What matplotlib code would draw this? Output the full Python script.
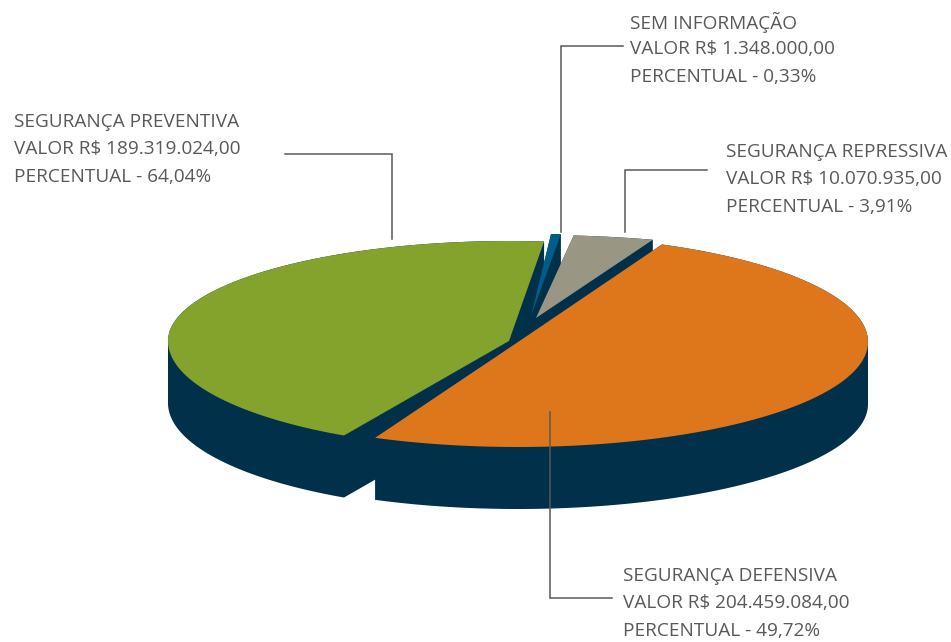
import numpy as np
import matplotlib.pyplot as plt
from matplotlib.patches import Polygon

plt.rcParams['font.family'] = ['Open Sans', 'DejaVu Sans']

# drawing order: back slices first
slices = ['repressiva', 'sem_info', 'preventiva', 'defensiva']
shares = [3.7, 0.45, 43.6, 49.95]  # share of the ellipse as drawn, percent
colors = ['#999684', '#005d87', '#83a32d', '#de761b']
start_deg = [70.5, 85.1, 84.1, -114.1]
tip_x = [536, 531, 509, 518]
tip_y = [318, 316, 341, 342]
semi_x = [350, 350, 341, 350]
semi_back = [83, 82, 100, 107]
semi_front = [83, 82, 108, 105]

labels = [
    ['SEM INFORMAÇÃO', 'VALOR R$ 1.348.000,00', 'PERCENTUAL - 0,33%'],
    ['SEGURANÇA REPRESSIVA', 'VALOR R$ 10.070.935,00', 'PERCENTUAL - 3,91%'],
    ['SEGURANÇA PREVENTIVA', 'VALOR R$ 189.319.024,00', 'PERCENTUAL - 64,04%'],
    ['SEGURANÇA DEFENSIVA', 'VALOR R$ 204.459.084,00', 'PERCENTUAL - 49,72%'],
]
label_x = [630, 726, 14, 623]
label_y = [22, 152, 122, 576]
leaders = [
    ([623, 561, 561], [46, 46, 232]),
    ([707, 625, 625], [170, 170, 232]),
    ([285, 392, 392], [154, 154, 239]),
    ([550, 550, 612], [412, 598, 598]),
]

dark = '#00304a'
text_color = '#58595b'
depth = 62

fig = plt.figure(figsize=(9.51, 6.42), dpi=100)
ax = fig.add_axes([0, 0, 1, 1])
ax.set_xlim(0, 951)
ax.set_ylim(642, 0)
ax.axis('off')


def wedge_points(i):
    t = np.radians(np.linspace(start_deg[i], start_deg[i] + shares[i] * 3.6, 200))
    b = np.where(np.sin(t) >= 0, semi_back[i], semi_front[i])
    x = tip_x[i] + semi_x[i] * np.cos(t)
    y = tip_y[i] - b * np.sin(t)
    return np.vstack([[tip_x[i], tip_y[i]], np.column_stack([x, y])])


def half_hull(pts):
    chain = []
    for p in pts:
        while len(chain) > 1:
            a, b = chain[-2], chain[-1]
            if (b[0] - a[0]) * (p[1] - a[1]) - (b[1] - a[1]) * (p[0] - a[0]) > 0:
                break
            chain.pop()
        chain.append(p)
    return chain[:-1]


def draw_walls(pts):
    # the slice and its copy one depth lower, joined by their convex hull
    both = sorted(map(tuple, np.vstack([pts, pts + [0, depth]])))
    hull = half_hull(both) + half_hull(both[::-1])
    ax.add_patch(Polygon(hull, fc=dark, ec='none'))


tops = [wedge_points(i) for i in range(len(slices))]

# dark hub seen between the exploded slices
hub = np.array([tops[2][1], tops[2][0], tops[0][0], tops[1][0]])
draw_walls(hub)

for pts in tops:
    draw_walls(pts)
for i in range(len(slices)):
    ax.add_patch(Polygon(tops[i], fc=colors[i], ec='none', zorder=2))

for xs, ys in leaders:
    ax.plot(xs, ys, color=text_color, lw=1.1, solid_joinstyle='miter', zorder=3)

for lines, x, y in zip(labels, label_x, label_y):
    for k, line in enumerate(lines):
        ax.text(x, y + k * 27.3, line, color=text_color, fontsize=13.65, va='center', ha='left')

fig.savefig('out.png', dpi=100)
